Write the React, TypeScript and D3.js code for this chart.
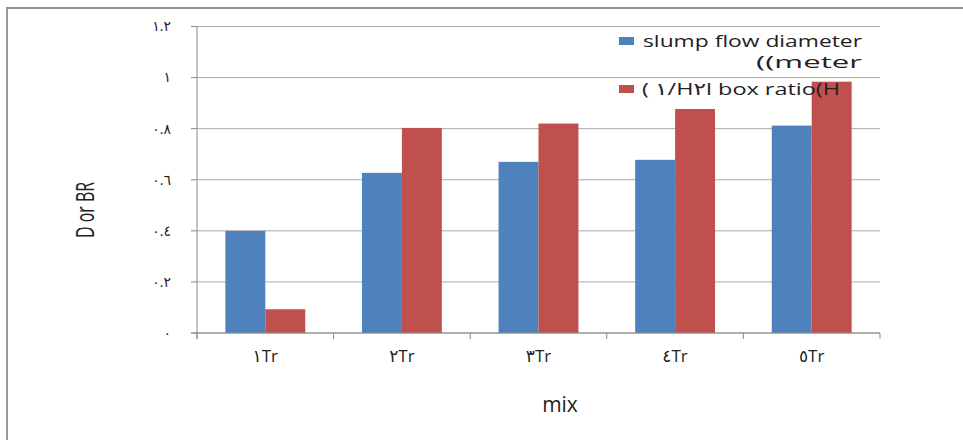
import React from "react";
import * as d3 from "d3";

// Mix categories and measured values
const categories = ["١Tr", "٢Tr", "٣Tr", "٤Tr", "٥Tr"];
const slumpFlow = [0.4, 0.627, 0.67, 0.678, 0.812];
const boxRatio = [0.093, 0.803, 0.82, 0.877, 0.984];
const seriesNames = ["slump", "box"];
const seriesColors = ["#4f81bd", "#c0504d"];
const yTickValues = [0, 0.2, 0.4, 0.6, 0.8, 1, 1.2];
const yTickLabels = ["٠", "٠.٢", "٠.٤", "٠.٦", "٠.٨", "١", "١.٢"];

const W = 963;
const H = 440;
const left = 197;
const right = 880;
const top = 26.5;
const bottom = 333;

const font = "'Open Sans', 'DejaVu Sans', sans-serif";
const textColor = "#222";

export default function App() {
  const x0 = d3.scaleBand<string>().domain(categories).range([left, right]).padding(0);
  const x1 = d3
    .scaleBand<string>()
    .domain(seriesNames)
    .range([0, x0.bandwidth()])
    .paddingInner(0)
    .paddingOuter(0.71);
  const y = d3.scaleLinear().domain([0, 1.2]).range([bottom, top]);

  const values = [slumpFlow, boxRatio];
  const boundaries = [...categories.map((c) => x0(c) as number), right];

  return (
    <svg
      width={W}
      height={H}
      style={{ position: "absolute", left: 0, top: 0, display: "block", background: "#fff" }}
    >
      {/* outer frame (top and left edges) */}
      <line x1={6} x2={W} y1={8} y2={8} stroke="#8e8e8e" strokeWidth={2} />
      <line x1={7} x2={7} y1={8} y2={H} stroke="#9a9a9a" strokeWidth={2} />

      {/* horizontal gridlines */}
      {yTickValues.map((v) => (
        <line key={"g" + v} x1={left} x2={right} y1={y(v)} y2={y(v)} stroke="#a9a9a9" strokeWidth={1} />
      ))}

      {/* bars */}
      {seriesNames.map((s, si) =>
        categories.map((c, ci) => (
          <rect
            key={s + c}
            x={(x0(c) as number) + (x1(s) as number)}
            y={y(values[si][ci])}
            width={x1.bandwidth()}
            height={bottom - y(values[si][ci])}
            fill={seriesColors[si]}
          />
        ))
      )}

      {/* y axis */}
      <line x1={left} x2={left} y1={top} y2={bottom + 6} stroke="#8a8a8a" strokeWidth={1} />
      {yTickValues.map((v, i) => (
        <g key={"t" + v}>
          <line x1={left - 6} x2={left} y1={y(v)} y2={y(v)} stroke="#8a8a8a" />
          <text
            x={171}
            y={y(v)}
            dy="0.35em"
            textAnchor="end"
            fontFamily={font}
            fontSize={14}
            letterSpacing={2}
            fill={textColor}
            style={{ direction: "ltr", unicodeBidi: "bidi-override" }}
          >
            {yTickLabels[i]}
          </text>
        </g>
      ))}

      {/* x axis */}
      <line x1={left - 6} x2={right} y1={bottom} y2={bottom} stroke="#8a8a8a" strokeWidth={1} />
      {boundaries.map((bx, i) => (
        <line key={"xt" + i} x1={bx} x2={bx} y1={bottom} y2={bottom + 6} stroke="#8a8a8a" />
      ))}
      {categories.map((c) => (
        <text
          key={"xl" + c}
          x={(x0(c) as number) + x0.bandwidth() / 2}
          y={362}
          textAnchor="middle"
          fontFamily={font}
          fontSize={17}
          fill={textColor}
          style={{ direction: "ltr", unicodeBidi: "bidi-override" }}
        >
          {c}
        </text>
      ))}

      {/* axis titles */}
      <text x={560} y={412} textAnchor="middle" fontFamily={font} fontSize={21} fill={textColor}>
        mix
      </text>
      <text
        transform="translate(94,210) rotate(-90)"
        textAnchor="middle"
        fontFamily={font}
        fontSize={26}
        fill={textColor}
        textLength={56}
        lengthAdjust="spacingAndGlyphs"
      >
        D or BR
      </text>

      {/* legend */}
      <rect x={619} y={37} width={15} height={8} fill={seriesColors[0]} />
      <text
        x={643}
        y={47}
        fontFamily={font}
        fontSize={17}
        fill={textColor}
        textLength={219}
        lengthAdjust="spacingAndGlyphs"
      >
        slump flow diameter
      </text>
      <text
        x={756}
        y={68}
        fontFamily={font}
        fontSize={17}
        fill={textColor}
        textLength={106}
        lengthAdjust="spacingAndGlyphs"
      >
        ((meter
      </text>
      <rect x={619} y={85} width={15} height={8} fill={seriesColors[1]} />
      <text
        x={642}
        y={95}
        fontFamily={font}
        fontSize={17}
        fill={textColor}
        textLength={198}
        lengthAdjust="spacingAndGlyphs"
        style={{ direction: "ltr", unicodeBidi: "bidi-override" }}
      >
        {"( ١/H٢l box ratio(H"}
      </text>
    </svg>
  );
}
